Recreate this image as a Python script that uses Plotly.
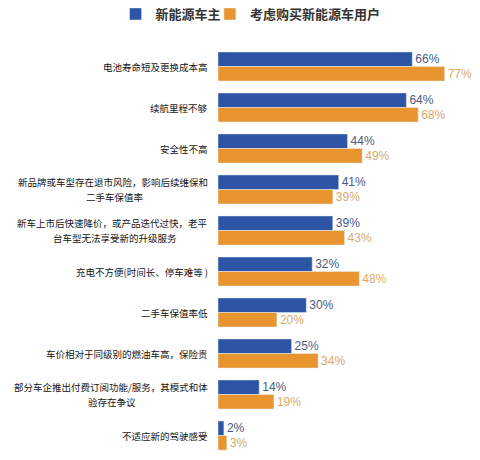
import plotly.graph_objects as go

# reasons for concern, top to bottom
categories = [
    '电池寿命短及更换成本高',
    '续航里程不够',
    '安全性不高',
    '新品牌或车型存在退市风险，影响后续维保和<br>二手车保值率',
    '新车上市后快速降价，或产品迭代过快，老平<br>台车型无法享受新的升级服务',
    '充电不方便(时间长、停车难等 )',
    '二手车保值率低',
    '车价相对于同级别的燃油车高，保险贵',
    '部分车企推出付费订阅功能/服务，其模式和体<br>验存在争议',
    '不适应新的驾驶感受',
]
owners = [66, 64, 44, 41, 39, 32, 30, 25, 14, 2]
buyers = [77, 68, 49, 39, 43, 48, 20, 34, 19, 3]

name_owners = '新能源车主'
name_buyers = '考虑购买新能源车用户'

font_cjk = 'Noto Sans CJK SC'
label_size = 9.5


def text_width(s, size):
    # rough width: CJK glyphs are full-width, ascii about half
    return sum(size if ord(ch) > 127 else 0.55 * size for ch in s)


fig = go.Figure()
fig.add_trace(go.Bar(
    y=categories, x=owners, name=name_owners, orientation='h',
    marker_color='#2e54a6', legend='legend',
    text=[f'{v}%' for v in owners], textposition='outside',
    textfont=dict(color='#4b5b82', size=12, family='Arial'),
    cliponaxis=False,
))
fig.add_trace(go.Bar(
    y=categories, x=buyers, name=name_buyers, orientation='h',
    marker_color='#e9952f', legend='legend2',
    text=[f'{v}%' for v in buyers], textposition='outside',
    textfont=dict(color='#d6ab6c', size=12, family='Arial'),
    cliponaxis=False,
))

# category labels: one annotation per line, later lines centred under the first
line_gap = 15
for c in categories:
    lines = c.split('<br>')
    mid = (len(lines) - 1) / 2
    centre = -8 - text_width(lines[0], label_size) / 2
    for i, ln in enumerate(lines):
        fig.add_annotation(
            x=0, xref='paper', y=c, yref='y', text=ln, showarrow=False,
            xanchor='right' if i == 0 else 'center',
            xshift=-8 if i == 0 else centre,
            yshift=(mid - i) * line_gap,
            font=dict(family=font_cjk, size=label_size, color='#151515'),
        )

legend_font = dict(family=font_cjk, size=13, color='#333333', weight='bold')

# page body has an 8px margin, so the plot area is pulled up/left by that much
fig.update_layout(
    width=480, height=460,
    margin=dict(l=210, r=8, t=38, b=12, autoexpand=False),
    paper_bgcolor='white', plot_bgcolor='white',
    barmode='group', bargap=0.29, bargroupgap=0,
    showlegend=True,
    font=dict(family=font_cjk),
    legend=dict(orientation='h', x=-0.391, xanchor='left', y=1.078,
                yanchor='middle', font=legend_font, itemwidth=30,
                bgcolor='rgba(0,0,0,0)'),
    legend2=dict(orientation='h', x=-0.031, xanchor='left', y=1.078,
                 yanchor='middle', font=legend_font, itemwidth=30,
                 bgcolor='rgba(0,0,0,0)'),
    xaxis=dict(range=[0, 89], visible=False),
    yaxis=dict(autorange='reversed', showticklabels=False, showgrid=False,
               zeroline=False, showline=False),
)

fig.write_html('out.html')
